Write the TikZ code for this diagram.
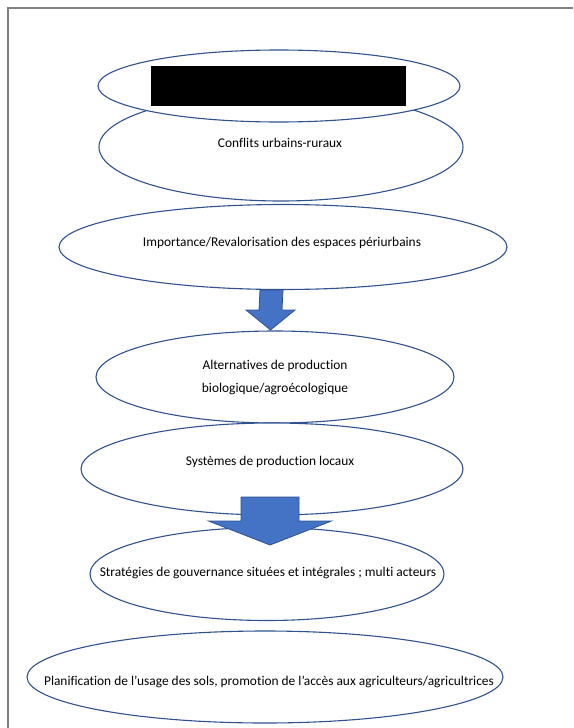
\documentclass[tikz,border=0pt]{standalone}
\usepackage{fontspec}
\setmainfont{Carlito}[Ligatures=NoCommon]
\usetikzlibrary{calc}
\usetikzlibrary{shapes}
\definecolor{edgeblue}{HTML}{2F528F}
\definecolor{fillblue}{HTML}{4472C4}
\newcommand{\blockarrow}[5]{% start, tip, half shaft, half head, head length
 \filldraw[bigarrow] ($(#1)+(-#3,0)$) -- ($(#2)+(-#3,-#5)$) -- ($(#2)+(-#4,-#5)$) -- (#2)
  -- ($(#2)+(#4,-#5)$) -- ($(#2)+(#3,-#5)$) -- ($(#1)+(#3,0)$) -- cycle;
}
\begin{document}
\begin{tikzpicture}[x=1pt,y=-1pt]
% % Styles
 \tikzset{
 	bubble/.style={ellipse,draw=edgeblue,fill=white,line width=1.1pt,inner sep=0pt},
 	txt/.style={font=\fontsize{13.4}{23}\selectfont,align=center,inner sep=0pt},
 	bigarrow/.style={fill=fillblue,draw=edgeblue,line width=0.8pt}
 }
 \useasboundingbox (0,0) rectangle (573,728);
% % Frame
 \draw[gray,line width=1.4pt] (8,728) -- (8,8) -- (573,8);
% % Ellipses
 \node[bubble,minimum width=364pt,minimum height=108pt] (conf) at (281,147){};
 \node[txt] (conftxt) at (280,143){Conflits urbains-ruraux};
 \node[bubble,minimum width=362pt,minimum height=72pt] (top) at (279,86){};
 % black box here
 \node[fill=black,minimum width=255pt,minimum height=40pt,inner sep=0pt] (hidden) at (278.5,86){};
 \node[bubble,minimum width=448pt,minimum height=85pt] (imp) at (283,247){};
 \node[txt] (imptxt) at (282,243){Importance/Revalorisation des espaces périurbains};
 \node[bubble,minimum width=358pt,minimum height=92pt] (alt) at (275,377){};
 \node[txt] (alttxt) at (275,377){Alternatives de production\\biologique/agroécologique};
 \node[bubble,minimum width=382pt,minimum height=92pt] (sys) at (272,469){};
 \node[txt] (systxt) at (270,462){Systèmes de production locaux};
 \node[bubble,minimum width=354pt,minimum height=93pt] (strat) at (267,574){};
 \node[txt] (strattxt) at (268,573){Stratégies de gouvernance situées et intégrales ; multi acteurs};
 \node[bubble,minimum width=476pt,minimum height=92pt] (plan) at (265,677){};
 \node[txt] (plantxt) at (269,682){Planification de l’usage des sols, promotion de l’accès aux agriculteurs/agricultrices};
% % Arrows
 \coordinate (a1s) at (271.5,290);
 \coordinate (a1e) at (270.5,330);
 \coordinate (a2s) at (270,497);
 \coordinate (a2e) at (270,545);
 \blockarrow{a1s}{a1e}{11.5}{24.5}{20}
 \blockarrow{a2s}{a2e}{29}{61.5}{24}
\end{tikzpicture}
\end{document}
